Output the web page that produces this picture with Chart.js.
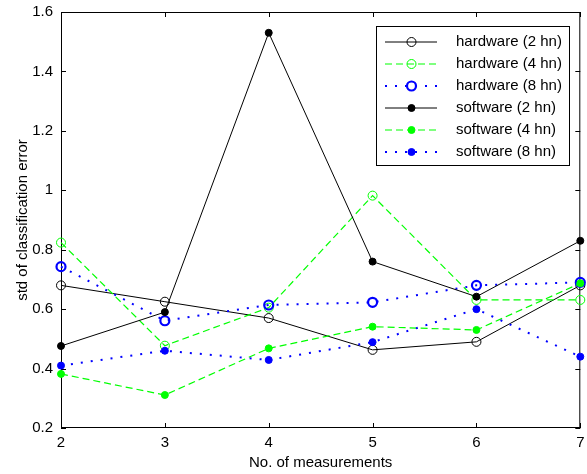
<!DOCTYPE html>
<html>
<head>
<meta charset="utf-8">
<script src="https://cdn.jsdelivr.net/npm/chart.js@4/dist/chart.umd.min.js"></script>
<style>
  html, body { margin: 0; padding: 0; background: #fff; }
  #wrap { width: 587px; height: 474px; position: relative; }
</style>
</head>
<body>
<div id="wrap"><canvas id="stdChart"></canvas></div>
<script>
// No. of measurements
const measurements = [2, 3, 4, 5, 6, 7];

// std of classification error
const hw2 = [0.68, 0.625, 0.57, 0.463, 0.49, 0.68];
const hw4 = [0.824, 0.477, 0.605, 0.982, 0.631, 0.631];
const hw8 = [0.743, 0.561, 0.614, 0.623, 0.68, 0.69];
const sw2 = [0.476, 0.59, 1.53, 0.76, 0.642, 0.83];
const sw4 = [0.382, 0.311, 0.468, 0.541, 0.53, 0.687];
const sw8 = [0.41, 0.46, 0.429, 0.489, 0.60, 0.44];

const seriesNames = ['hardware (2 hn)', 'hardware (4 hn)', 'hardware (8 hn)',
                     'software (2 hn)', 'software (4 hn)', 'software (8 hn)'];

const GREEN = '#00ff00';
const BLUE = '#0000ff';
const FONT = '"Liberation Sans", Arial, sans-serif';

function pts(arr) {
    return arr.map((v, i) => ({ x: measurements[i], y: v }));
}

function series(i, values, color, dash, lw, filled, radius, ptBorder) {
    return {
        label: seriesNames[i],
        data: pts(values),
        borderColor: color,
        borderWidth: lw,
        borderDash: dash,
        pointRadius: radius,
        pointHoverRadius: radius,
        pointBackgroundColor: filled ? color : 'rgba(0,0,0,0)',
        pointBorderColor: color,
        pointBorderWidth: ptBorder,
        fill: false,
        tension: 0,
        clip: false,
        order: 6 - i
    };
}

// frame box with inward ticks on all four sides
const framePlugin = {
    id: 'frame',
    beforeDatasetsDraw(chart) {
        const { ctx, chartArea: a, scales } = chart;
        ctx.save();
        ctx.strokeStyle = '#000';
        ctx.lineWidth = 1;
        ctx.strokeRect(a.left + 0.5, a.top + 0.5, a.right - a.left - 1, a.bottom - a.top - 1);
        const len = 5;
        ctx.beginPath();
        scales.x.ticks.forEach(t => {
            const px = Math.round(scales.x.getPixelForValue(t.value)) + 0.5;
            ctx.moveTo(px, a.bottom); ctx.lineTo(px, a.bottom - len);
            ctx.moveTo(px, a.top); ctx.lineTo(px, a.top + len);
        });
        scales.y.ticks.forEach(t => {
            const py = Math.round(scales.y.getPixelForValue(t.value)) + 0.5;
            ctx.moveTo(a.left, py); ctx.lineTo(a.left + len, py);
            ctx.moveTo(a.right, py); ctx.lineTo(a.right - len, py);
        });
        ctx.stroke();
        ctx.restore();
    }
};

// MATLAB-style legend box inside the axes, top right
const legendPlugin = {
    id: 'boxLegend',
    afterDraw(chart) {
        const { ctx } = chart;
        const x0 = 376, y0 = 26, w = 193, h = 139;
        ctx.save();
        ctx.fillStyle = '#fff';
        ctx.fillRect(x0, y0, w, h);
        ctx.strokeStyle = '#000';
        ctx.lineWidth = 1;
        ctx.strokeRect(x0 + 0.5, y0 + 0.5, w, h);
        ctx.font = '15px ' + FONT;
        ctx.textBaseline = 'middle';
        chart.data.datasets.forEach((ds, i) => {
            const y = 42 + i * 22;
            ctx.strokeStyle = ds.borderColor;
            ctx.lineWidth = ds.borderWidth;
            ctx.setLineDash(ds.borderDash);
            ctx.beginPath();
            ctx.moveTo(385, y); ctx.lineTo(437, y);
            ctx.stroke();
            ctx.setLineDash([]);
            ctx.beginPath();
            ctx.arc(411.5, y, ds.pointRadius, 0, Math.PI * 2);
            ctx.fillStyle = ds.pointBackgroundColor;
            ctx.fill();
            ctx.lineWidth = ds.pointBorderWidth;
            ctx.strokeStyle = ds.pointBorderColor;
            ctx.stroke();
            ctx.fillStyle = '#000';
            ctx.fillText(ds.label, 456, y);
        });
        ctx.restore();
    }
};

const ctx = document.getElementById('stdChart').getContext('2d');
new Chart(ctx, {
    type: 'line',
    data: {
        datasets: [
            series(0, hw2, '#000', [], 1, false, 4.5, 1),
            series(1, hw4, GREEN, [7, 4], 1.2, false, 4.5, 1),
            series(2, hw8, BLUE, [2, 8], 2, false, 4.5, 2.2),
            series(3, sw2, '#000', [], 1, true, 3.5, 1),
            series(4, sw4, GREEN, [7, 4], 1.2, true, 3.5, 1),
            series(5, sw8, BLUE, [2, 8], 2, true, 3.5, 1)
        ]
    },
    options: {
        responsive: true,
        maintainAspectRatio: false,
        animation: false,
        events: [],
        layout: { padding: { left: 14, right: 5, top: 12, bottom: 0 } },
        plugins: {
            legend: { display: false },
            tooltip: { enabled: false }
        },
        scales: {
            x: {
                type: 'linear',
                min: 2,
                max: 7,
                afterFit(s) {
                    s.height = 46;
                    s.paddingLeft = 0;
                    s.paddingRight = 0;
                },
                grid: { display: false, drawTicks: false },
                border: { display: false },
                ticks: {
                    stepSize: 1,
                    padding: 6,
                    color: '#000',
                    font: { family: FONT, size: 15 }
                },
                title: {
                    display: true,
                    text: 'No. of measurements',
                    color: '#000',
                    padding: { top: 0, bottom: 2 },
                    font: { family: FONT, size: 15 }
                }
            },
            y: {
                min: 0.2,
                max: 1.6,
                afterFit(s) {
                    s.width = 47;
                    s.paddingTop = 0;
                    s.paddingBottom = 0;
                },
                grid: { display: false, drawTicks: false },
                border: { display: false },
                ticks: {
                    stepSize: 0.2,
                    padding: 8,
                    color: '#000',
                    font: { family: FONT, size: 15 },
                    callback: v => String(Math.round(v * 10) / 10)
                },
                title: {
                    display: true,
                    text: 'std of classification error',
                    color: '#000',
                    padding: { top: 0, bottom: 0 },
                    font: { family: FONT, size: 15 }
                }
            }
        }
    },
    plugins: [framePlugin, legendPlugin]
});
</script>
</body>
</html>
